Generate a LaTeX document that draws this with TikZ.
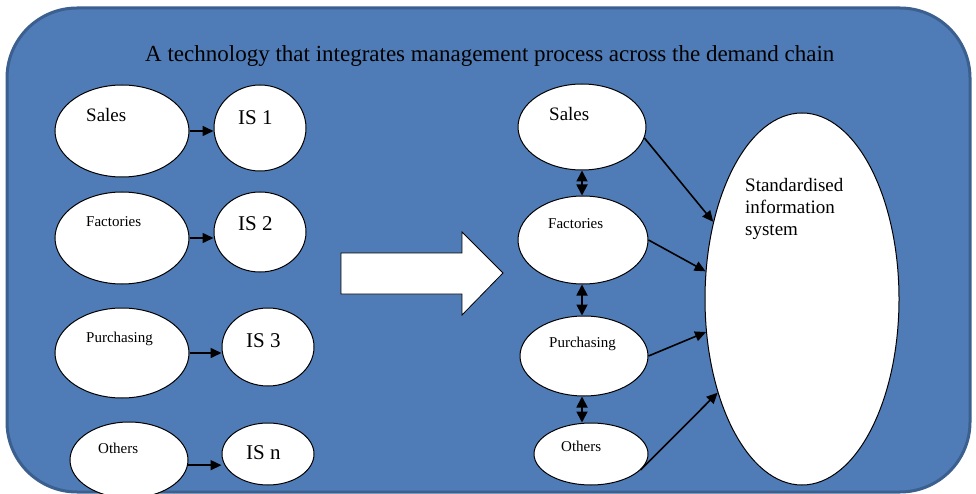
\documentclass[tikz,border=0pt]{standalone}
\usepackage{fontspec}
\setmainfont{Liberation Serif}
\usetikzlibrary{shapes.geometric,arrows.meta}
\definecolor{bgblue}{HTML}{4F7CB6}
\definecolor{bgedge}{HTML}{3B5F8E}
\begin{document}
\begin{tikzpicture}[x=1pt,y=-1pt,
  ell/.style={ellipse, draw=black, fill=white, line width=1pt, inner sep=0pt},
  arr/.style={-{Triangle[length=11pt,width=10pt]}, line width=1.6pt},
  darr/.style={{Triangle[length=11pt,width=11pt]}-{Triangle[length=11pt,width=11pt]}, line width=1.8pt},
  small/.style={anchor=base west, inner sep=0pt, font=\fontsize{15}{18}\selectfont},
  mid/.style={anchor=base west, inner sep=0pt, font=\fontsize{19}{22}\selectfont},
  big/.style={anchor=base west, inner sep=0pt, font=\fontsize{21}{24}\selectfont},
  ttl/.style={anchor=base west, inner sep=0pt, font=\fontsize{23}{26}\selectfont}]
\useasboundingbox (0,0) rectangle (976,494);
\draw[fill=bgblue, draw=bgedge, line width=3pt, rounded corners=70pt] (7,8) rectangle (970,492);
\node[ttl] (title) at (145,62) {A technology that integrates management process across the demand chain};
% left column
\node[ell, minimum width=134pt, minimum height=92pt] (Sa) at (122,131) {};
\node[ell, minimum width=92pt, minimum height=86pt] (IS1) at (260,128) {};
\node[ell, minimum width=134pt, minimum height=92pt] (Fa) at (122,238) {};
\node[ell, minimum width=92pt, minimum height=80pt] (IS2) at (260,232) {};
\node[ell, minimum width=134pt, minimum height=90pt] (Pu) at (122,353) {};
\node[ell, minimum width=92pt, minimum height=78pt] (IS3) at (268,347) {};
\node[ell, minimum width=118pt, minimum height=76pt] (Ot) at (129,460) {};
\node[ell, minimum width=92pt, minimum height=62pt] (ISn) at (268,454) {};
\node[mid] (tSa) at (86,122) {Sales};
\node[small] (tFa) at (86,227) {Factories};
\node[small] (tPu) at (86,342) {Purchasing};
\node[small] (tOt) at (98,453) {Others};
\node[big] (tIS1) at (238,125) {IS 1};
\node[big] (tIS2) at (238,231) {IS 2};
\node[big] (tIS3) at (246,347) {IS 3};
\node[big] (tISn) at (246,459) {IS n};
\draw[arr] (Sa.east) -- (Sa.east -| IS1.west);
\draw[arr] (Fa.east) -- (Fa.east -| IS2.west);
\draw[arr] (Pu.east) -- (Pu.east -| IS3.west);
\draw[arr] (Ot.-5) -- (Ot.-5 -| ISn.west);
% block arrow
\draw[fill=white, draw=black, line width=0.8pt] (341,253) -- (462,253) -- (462,232) -- (503,273) -- (462,315) -- (462,294) -- (341,294) -- cycle;
% right column
\node[ell, minimum width=128pt, minimum height=86pt] (S2) at (582,127) {};
\node[ell, minimum width=130pt, minimum height=88pt] (F2) at (583,240) {};
\node[ell, minimum width=128pt, minimum height=80pt] (P2) at (584,356) {};
\node[ell, minimum width=114pt, minimum height=62pt] (O2) at (591,454) {};
\node[ell, minimum width=194pt, minimum height=372pt] (SIS) at (802,299) {};
\node[mid] (tS2) at (549,121) {Sales};
\node[small] (tF2) at (548,229) {Factories};
\node[small] (tP2) at (549,347) {Purchasing};
\node[small] (tO2) at (561,451) {Others};
\node[mid, align=left, anchor=base west] (tSIS) at (745,236) {Standardised\\information\\system};
\draw[darr] (S2.south) -- (S2.south |- F2.north);
\draw[darr] (S2.south |- F2.south) -- (S2.south |- P2.north);
\draw[darr] (S2.south |- P2.south) -- (S2.south |- O2.north);
\draw[arr] (S2.-10) -- (SIS.139.5);
\draw[arr] (F2.east) -- (SIS.164.4);
\draw[arr] (P2.east) -- (SIS.199.3);
\draw[arr] (O2.-18) -- (SIS.228);
\end{tikzpicture}
\end{document}
